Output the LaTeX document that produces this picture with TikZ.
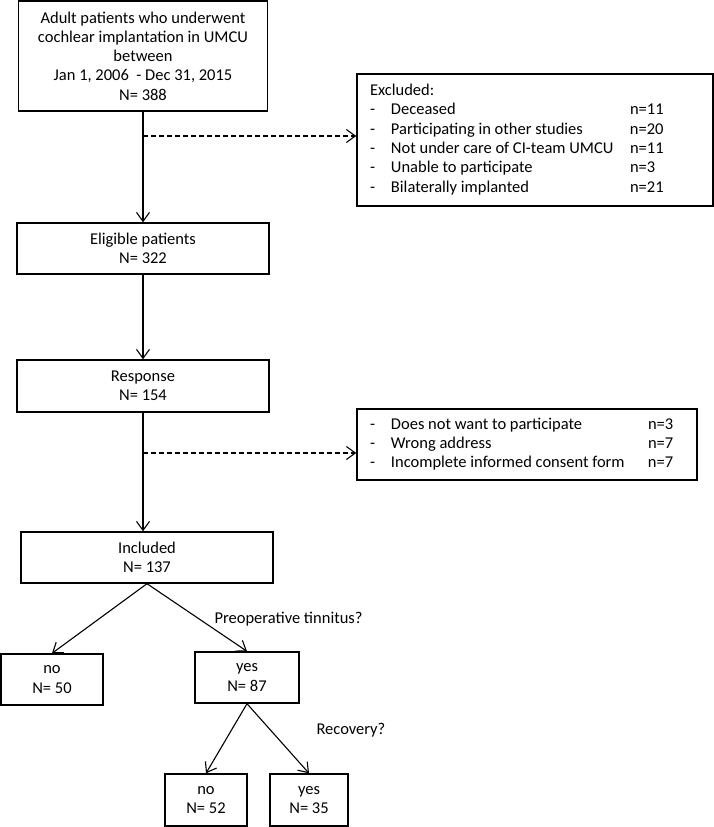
\documentclass[tikz,border=0pt]{standalone}
\usepackage{fontspec}
\setmainfont{Carlito}
\usetikzlibrary{arrows.meta}

\begin{document}
\begin{tikzpicture}[x=1pt, y=-1pt, font=\fontsize{16.5}{19.3}\selectfont,
	box/.style={draw, line width=1.4pt, align=center, inner sep=0pt},
	lijst/.style={draw, line width=1.4pt, inner xsep=13pt, inner ysep=0pt},
	pijl/.style={-{Straight Barb[length=9pt,width=13pt]}, line width=1.1pt},
	stip/.style={pijl, dash pattern=on 5pt off 3pt}]
	\useasboundingbox (0,0) rectangle (714,827);
	% hoofdlijn
	\node[box, minimum width=249, minimum height=110] (alle)     at (143,56)    {Adult patients who underwent\\cochlear implantation in UMCU\\between\\Jan 1, 2006 \ - Dec 31, 2015\\N= 388};
	\node[box, minimum width=252, minimum height=51]  (eligible) at (143,248.5) {Eligible patients\\N= 322};
	\node[box, minimum width=252, minimum height=52]  (respons)  at (143,386)   {Response\\N= 154};
	\node[box, minimum width=252, minimum height=51]  (incl)     at (147,557.5) {Included\\N= 137};
	% uitgesloten
	\node[lijst, minimum width=356, minimum height=132] (excl1) at (535,140) {%
		\begin{tabular}{@{}p{21pt}@{}p{239pt}@{}p{70pt}@{}}
		\multicolumn{3}{@{}l@{}}{Excluded:}\\
		- & Deceased & n=11\\
		- & Participating in other studies & n=20\\
		- & Not under care of CI-team UMCU & n=11\\
		- & Unable to participate & n=3\\
		- & Bilaterally implanted & n=21
		\end{tabular}};
	\node[lijst, minimum width=340, minimum height=71] (excl2) at (527,444.5) {%
		\begin{tabular}{@{}p{21pt}@{}p{257pt}@{}p{36pt}@{}}
		- & Does not want to participate & n=3\\
		- & Wrong address & n=7\\
		- & Incomplete informed consent form & n=7
		\end{tabular}};
	% splitsing
	\node[box, minimum width=102, minimum height=51] (nee1) at (52,679.5)  {no\\N= 50};
	\node[box, minimum width=104, minimum height=51] (ja1)  at (247,677.5) {yes\\N= 87};
	\node[box, minimum width=82,  minimum height=52] (nee2) at (206,800)   {no\\N= 52};
	\node[box, minimum width=78,  minimum height=52] (ja2)  at (309,800)   {yes\\N= 35};
	\node[anchor=west] (vraag1) at (211,619) {Preoperative tinnitus?};
	\node[anchor=west] (vraag2) at (313,730) {Recovery?};
	% pijlen
	\coordinate (d1) at (143,136);
	\coordinate (d2) at (143,453);
	\draw[pijl] (alle) -- (eligible);
	\draw[pijl] (eligible) -- (respons);
	\draw[pijl] (respons.south) -- (respons.south |- incl.north);
	\draw[stip] (d1) -- (d1 -| excl1.west);
	\draw[stip] (d2) -- (d2 -| excl2.west);
	\draw[pijl] (incl.south) -- (nee1.north);
	\draw[pijl] (incl.south) -- (ja1.north);
	\draw[pijl] (ja1.south) -- (nee2.north);
	\draw[pijl] (ja1.south) -- (ja2.north);
\end{tikzpicture}
\end{document}
